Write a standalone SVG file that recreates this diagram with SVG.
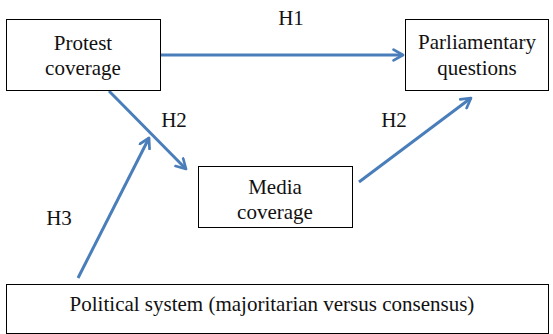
<svg xmlns="http://www.w3.org/2000/svg" width="553" height="334" viewBox="0 0 553 334">
<defs>
<style>
.box{fill:#fff;stroke:#000;stroke-width:1}
.t{font-family:"Liberation Serif","Times New Roman",serif;font-size:21px;fill:#111;text-anchor:middle}
.c{fill:none;stroke:#4a7ebb;stroke-width:3;marker-end:url(#ah)}
</style>
<marker id="ah" viewBox="0 0 10 10" refX="8" refY="5" markerWidth="4.5" markerHeight="4.5" orient="auto" markerUnits="strokeWidth">
<polyline points="1,1 8,5 1,9" fill="none" stroke="#4a7ebb" stroke-width="2" stroke-linecap="round" stroke-linejoin="round"/>
</marker>
</defs>
<rect width="553" height="334" fill="#fff"/>
<g id="connectors">
<line class="c" x1="161" y1="55" x2="403" y2="55"/>
<line class="c" x1="109" y1="91" x2="186" y2="169"/>
<line class="c" x1="78" y1="278" x2="149" y2="138"/>
<line class="c" x1="359" y1="182" x2="471" y2="98"/>
</g>
<g id="protest">
<rect class="box" x="6.5" y="19.5" width="154" height="71"/>
<text class="t" x="83" y="50">Protest</text>
<text class="t" x="83" y="75">coverage</text>
</g>
<g id="parliamentary">
<rect class="box" x="405.5" y="19.5" width="143" height="71"/>
<text class="t" x="477" y="49">Parliamentary</text>
<text class="t" x="477" y="75">questions</text>
</g>
<g id="media">
<rect class="box" x="198.5" y="166.5" width="154" height="61"/>
<text class="t" x="275" y="194">Media</text>
<text class="t" x="275" y="219">coverage</text>
</g>
<g id="political">
<rect class="box" x="6.5" y="284.5" width="542" height="49"/>
<text class="t" x="272" y="311">Political system (majoritarian versus consensus)</text>
</g>
<g id="labels">
<text class="t" x="291" y="25">H1</text>
<text class="t" x="174" y="127">H2</text>
<text class="t" x="394" y="127">H2</text>
<text class="t" x="59" y="225">H3</text>
</g>
</svg>
